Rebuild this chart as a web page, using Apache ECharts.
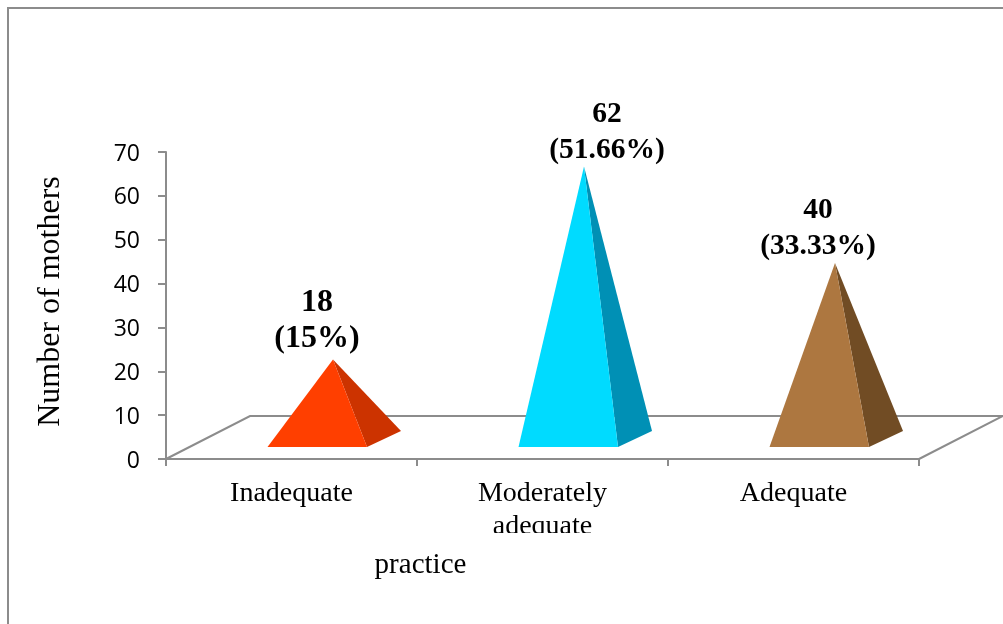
<!DOCTYPE html>
<html>
<head>
<meta charset="utf-8">
<style>
  html, body { margin: 0; padding: 0; background: #fff; }
  #main { width: 1003px; height: 624px; }
</style>
</head>
<body>
<div id="main"></div>
<script src="https://cdn.jsdelivr.net/npm/echarts@6/dist/echarts.min.js"></script>
<script>
const categories = ["Inadequate", "Moderately\nadequate", "Adequate"];
const mothers = [18, 62, 40];
const percents = ["15%", "51.66%", "33.33%"];
const yTicks = { min: 0, max: 70, interval: 10 };

// styles per pyramid
const frontColors = ["#FF3F00", "#00DBFF", "#AD7740"];
const sideColors = ["#CC3300", "#0090B5", "#714C24"];
const labelShiftX = [-16, 23, -17];
const labelShiftY = [-3, 2, 1];
const labelSizes = [32, 29.5, 29.5];

const serif = "'Liberation Serif', 'Times New Roman', serif";
const axisColor = "#8c8c8c";

const myChart = echarts.init(document.getElementById("main"), null, { renderer: "canvas" });

// floor of the fake 3d chart
function renderFloor(params, api) {
  const cs = params.coordSys;
  const left = cs.x;
  const right = cs.x + cs.width;
  const y = cs.y + cs.height;
  const dx = 84;
  const dy = 43;
  return {
    type: "polyline",
    silent: true,
    shape: {
      points: [
        [left, y],
        [left + dx, y - dy],
        [right + dx, y - dy],
        [right, y]
      ]
    },
    style: { fill: "none", stroke: axisColor, lineWidth: 2 }
  };
}

function renderPyramid(params, api) {
  const i = api.value(0);
  const top = api.coord([i, api.value(1)]);
  const base = api.coord([i, 0]);
  const c = top[0];
  const y = base[1] - 12;
  const left = [c - 24, y];
  const front = [c + 75.5, y];
  const back = [c + 109.5, y - 16];
  const apex = [c + 41.5, top[1] - 20.5];
  return {
    type: "group",
    children: [
      {
        type: "polygon",
        shape: { points: [apex, front, back] },
        style: { fill: sideColors[i] }
      },
      {
        type: "polygon",
        shape: { points: [apex, left, front] },
        style: { fill: frontColors[i] }
      },
      {
        type: "text",
        style: {
          x: apex[0] + labelShiftX[i],
          y: apex[1] + labelShiftY[i],
          text: mothers[i] + "\n(" + percents[i] + ")",
          fill: "#000",
          font: "bold " + labelSizes[i] + "px " + serif,
          lineHeight: 36,
          align: "center",
          verticalAlign: "bottom"
        }
      }
    ]
  };
}

const option = {
  animation: false,
  backgroundColor: "#fff",
  grid: { left: 166, right: 84, top: 152, bottom: 165 },
  xAxis: {
    type: "category",
    data: categories,
    name: "practice",
    nameLocation: "middle",
    nameGap: 92,
    nameTextStyle: { color: "#000", fontFamily: serif, fontSize: 29, padding: [0, 244, 0, 0] },
    axisLine: { lineStyle: { color: axisColor, width: 2 } },
    axisTick: { show: true, alignWithLabel: false, length: 7, lineStyle: { color: axisColor, width: 2 } },
    axisLabel: {
      interval: 0,
      color: "#000",
      fontFamily: serif,
      fontSize: 28,
      lineHeight: 33,
      margin: 18
    }
  },
  yAxis: {
    type: "value",
    min: yTicks.min,
    max: yTicks.max,
    interval: yTicks.interval,
    name: "Number of mothers",
    nameLocation: "middle",
    nameGap: 99,
    nameTextStyle: { color: "#000", fontFamily: serif, fontSize: 32, padding: [0, 0, 0, 8] },
    splitLine: { show: false },
    axisLine: { show: true, lineStyle: { color: axisColor, width: 2 } },
    axisTick: { show: true, length: 8, lineStyle: { color: axisColor, width: 2 } },
    axisLabel: {
      margin: 26,
      formatter: "{t|{value}}",
      rich: {
        t: { color: "#000", fontFamily: "'Open Sans', sans-serif", fontSize: 23, padding: [4, 0, 0, 0] }
      }
    }
  },
  series: [
    {
      type: "custom",
      name: "floor",
      clip: false,
      z: 1,
      silent: true,
      renderItem: renderFloor,
      data: [[0, 0]]
    },
    {
      type: "custom",
      name: "mothers",
      clip: false,
      z: 3,
      silent: true,
      renderItem: renderPyramid,
      data: mothers.map((v, i) => [i, v])
    }
  ],
  graphic: [
    // outer frame, only top and left show
    {
      type: "polyline",
      silent: true,
      z: 0,
      shape: { points: [[8, 624], [8, 8], [1003, 8]] },
      style: { fill: "none", stroke: axisColor, lineWidth: 2 }
    },
    // second label line is cut off in the original
    {
      type: "rect",
      silent: true,
      z: 100,
      shape: { x: 470, y: 533, width: 150, height: 14 },
      style: { fill: "#fff" }
    }
  ]
};

myChart.setOption(option);
</script>
</body>
</html>
